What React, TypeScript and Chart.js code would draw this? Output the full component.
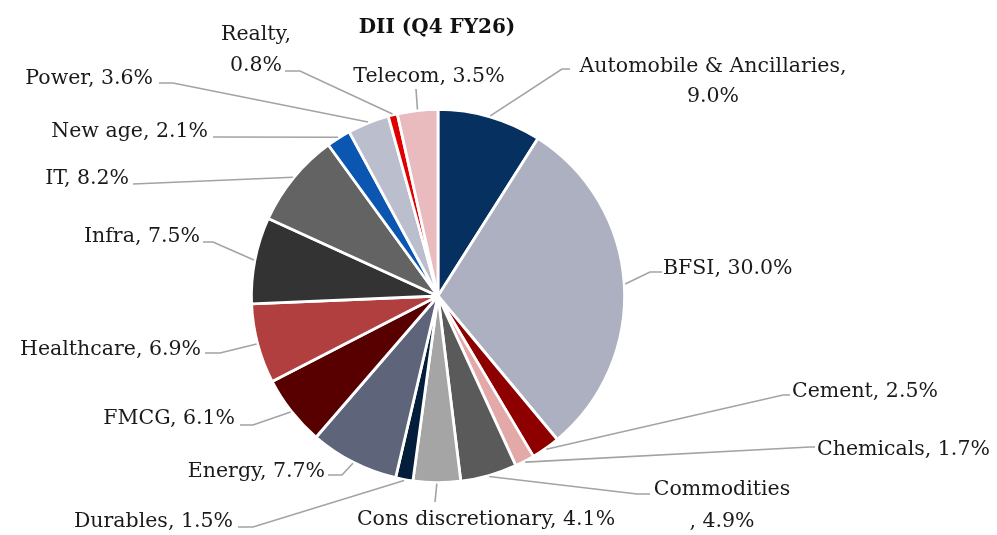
import React, { useEffect, useRef } from "react";
import { Chart, registerables } from "chart.js";

Chart.register(...registerables);

const TITLE = "DII (Q4 FY26)";

const sectors = [
  "Automobile & Ancillaries",
  "BFSI",
  "Cement",
  "Chemicals",
  "Commodities",
  "Cons discretionary",
  "Durables",
  "Energy",
  "FMCG",
  "Healthcare",
  "Infra",
  "IT",
  "New age",
  "Power",
  "Realty",
  "Telecom",
];

const shares = [9.0, 30.0, 2.5, 1.7, 4.9, 4.1, 1.5, 7.7, 6.1, 6.9, 7.5, 8.2, 2.1, 3.6, 0.8, 3.5];

const sliceColors = [
  "#05305F",
  "#ADB0C0",
  "#8E0000",
  "#E3A9A9",
  "#5A5A5A",
  "#A5A5A5",
  "#031D3B",
  "#5E6479",
  "#580000",
  "#B23F3F",
  "#333333",
  "#636363",
  "#0B56B0",
  "#BBBECC",
  "#E00000",
  "#E9BBBE",
];

// label text lines per slice (same order as sectors)
const labelLines: string[][] = [
  ["Automobile & Ancillaries,", "9.0%"],
  ["BFSI, 30.0%"],
  ["Cement, 2.5%"],
  ["Chemicals, 1.7%"],
  ["Commodities", ", 4.9%"],
  ["Cons discretionary, 4.1%"],
  ["Durables, 1.5%"],
  ["Energy, 7.7%"],
  ["FMCG, 6.1%"],
  ["Healthcare, 6.9%"],
  ["Infra, 7.5%"],
  ["IT, 8.2%"],
  ["New age, 2.1%"],
  ["Power, 3.6%"],
  ["Realty,", "0.8%"],
  ["Telecom, 3.5%"],
];

// layout: text anchor, alignment, line height and leader polyline (text side), arc end computed
type Layout = { x: number; y: number; align: CanvasTextAlign; lh: number; leader: [number, number][] };
const labelLayout: Layout[] = [
  { x: 713, y: 72, align: "center", lh: 30, leader: [[570, 69], [562, 69]] },
  { x: 663, y: 274, align: "left", lh: 30, leader: [[662, 272], [650, 272]] },
  { x: 792, y: 397, align: "left", lh: 30, leader: [[790, 395], [783, 395]] },
  { x: 817, y: 455, align: "left", lh: 30, leader: [[815, 447], [810, 447]] },
  { x: 722, y: 495, align: "center", lh: 32, leader: [[650, 494], [637, 494]] },
  { x: 486, y: 525, align: "center", lh: 30, leader: [[435, 502]] },
  { x: 233, y: 527, align: "right", lh: 30, leader: [[238, 527], [253, 527]] },
  { x: 325, y: 477, align: "right", lh: 30, leader: [[328, 475], [342, 475]] },
  { x: 235, y: 424, align: "right", lh: 30, leader: [[240, 425], [253, 425]] },
  { x: 201, y: 355, align: "right", lh: 30, leader: [[205, 353], [220, 353]] },
  { x: 200, y: 242, align: "right", lh: 30, leader: [[203, 242], [213, 242]] },
  { x: 129, y: 184, align: "right", lh: 30, leader: [[133, 184]] },
  { x: 208, y: 137, align: "right", lh: 30, leader: [[213, 137]] },
  { x: 153, y: 84, align: "right", lh: 30, leader: [[159, 83], [173, 83]] },
  { x: 256, y: 40, align: "center", lh: 31, leader: [[285, 71], [300, 71]] },
  { x: 429, y: 82, align: "center", lh: 30, leader: [[416, 89]] },
];

const labelPlugin = {
  id: "pieLabels",
  afterDraw(chart: any) {
    const ctx = chart.ctx as CanvasRenderingContext2D;
    const meta = chart.getDatasetMeta(0);
    ctx.save();
    // title
    ctx.fillStyle = "#111111";
    ctx.font = "bold 20px 'DejaVu Serif'";
    ctx.textAlign = "center";
    ctx.textBaseline = "alphabetic";
    ctx.fillText(TITLE, 437, 33);

    meta.data.forEach((arc: any, i: number) => {
      const p = arc.getProps(["x", "y", "startAngle", "endAngle", "outerRadius"], true);
      const mid = (p.startAngle + p.endAngle) / 2;
      const ex = p.x + Math.cos(mid) * (p.outerRadius + 1);
      const ey = p.y + Math.sin(mid) * (p.outerRadius + 1);
      const lay = labelLayout[i];
      ctx.strokeStyle = "#A3A3A3";
      ctx.lineWidth = 1.6;
      ctx.beginPath();
      lay.leader.forEach((pt, k) => (k === 0 ? ctx.moveTo(pt[0], pt[1]) : ctx.lineTo(pt[0], pt[1])));
      ctx.lineTo(ex, ey);
      ctx.stroke();

      ctx.fillStyle = "#1A1A1A";
      ctx.font = "20.5px 'DejaVu Serif'";
      ctx.textAlign = lay.align;
      labelLines[i].forEach((t, k) => ctx.fillText(t, lay.x, lay.y + k * lay.lh));
    });
    ctx.restore();
  },
};

export default function App() {
  const ref = useRef<HTMLCanvasElement | null>(null);
  useEffect(() => {
    if (!ref.current) return;
    const chart = new Chart(ref.current, {
      type: "pie",
      data: {
        labels: sectors,
        datasets: [
          {
            data: shares,
            backgroundColor: sliceColors,
            borderColor: "#FFFFFF",
            borderWidth: 2.8,
            hoverOffset: 0,
          },
        ],
      },
      options: {
        responsive: false,
        animation: false,
        devicePixelRatio: 1,
        layout: { padding: { left: 250, right: 371, top: 108, bottom: 51 } },
        plugins: { legend: { display: false }, tooltip: { enabled: false }, title: { display: false } },
      },
      plugins: [labelPlugin],
    });
    return () => chart.destroy();
  }, []);
  return (
    <div style={{ position: "absolute", left: 0, top: 0, width: 997, height: 535, background: "#FFFFFF" }}>
      <canvas ref={ref} width={997} height={535} style={{ display: "block" }} />
    </div>
  );
}
